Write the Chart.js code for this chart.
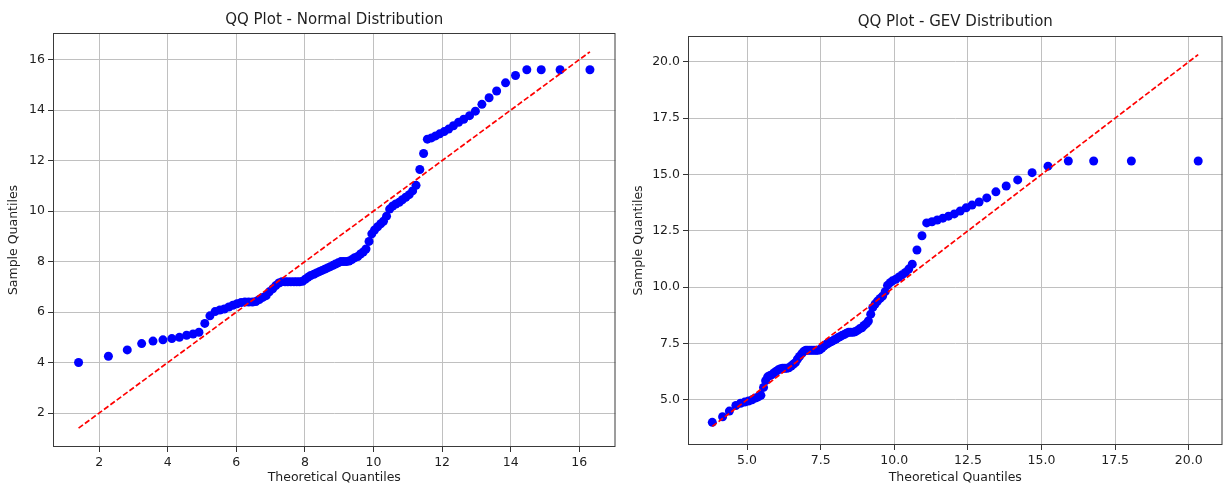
<!DOCTYPE html>
<html>
<head>
<meta charset="utf-8">
<title>QQ Plots</title>
<script src="https://cdn.jsdelivr.net/npm/chart.js@4.4.1/dist/chart.umd.min.js"></script>
<style>
  body { margin: 0; background: #fff; overflow: hidden; }
  #wrap { position: relative; width: 1223px; height: 487px; overflow: hidden; }
  canvas { position: absolute; top: 0; }
</style>
</head>
<body>
<div id="wrap">
  <canvas id="qq-normal" width="620" height="487" style="left:0"></canvas>
  <canvas id="qq-gev" width="607" height="487" style="left:620px"></canvas>
</div>
<script>
// Sorted sample (same data in both plots)
const sampleQuantiles = [
  4.00, 4.25, 4.50, 4.75, 4.85, 4.90, 4.95, 5.00, 5.08, 5.13,
  5.20, 5.55, 5.85, 6.02, 6.08, 6.12, 6.20, 6.27, 6.33, 6.38,
  6.40, 6.40, 6.40, 6.42, 6.50, 6.58, 6.65, 6.80, 6.92, 7.05,
  7.15, 7.20, 7.20, 7.20, 7.20, 7.20, 7.20, 7.20, 7.22, 7.30,
  7.38, 7.45, 7.50, 7.55, 7.60, 7.65, 7.70, 7.75, 7.80, 7.85,
  7.90, 7.95, 8.00, 8.00, 8.00, 8.02, 8.08, 8.15, 8.20, 8.30,
  8.38, 8.50, 8.80, 9.10, 9.25, 9.38, 9.50, 9.60, 9.80, 10.08,
  10.20, 10.28, 10.35, 10.45, 10.55, 10.65, 10.80, 11.02, 11.65, 12.28,
  12.85, 12.90, 12.98, 13.06, 13.15, 13.25, 13.38, 13.52, 13.64, 13.78,
  13.96, 14.23, 14.49, 14.76, 15.08, 15.37, 15.60, 15.60, 15.60, 15.60
];

// Theoretical quantiles, normal fit
const theoNormal = [
  1.40, 2.27, 2.82, 3.24, 3.57, 3.86, 4.12, 4.34, 4.55, 4.74,
  4.91, 5.08, 5.23, 5.38, 5.52, 5.65, 5.78, 5.90, 6.02, 6.14,
  6.25, 6.36, 6.47, 6.57, 6.67, 6.77, 6.87, 6.96, 7.06, 7.15,
  7.24, 7.33, 7.42, 7.50, 7.59, 7.68, 7.76, 7.84, 7.93, 8.01,
  8.09, 8.17, 8.26, 8.34, 8.42, 8.50, 8.58, 8.66, 8.74, 8.82,
  8.89, 8.97, 9.05, 9.13, 9.21, 9.29, 9.37, 9.45, 9.54, 9.62,
  9.70, 9.78, 9.87, 9.95, 10.03, 10.12, 10.21, 10.29, 10.38, 10.47,
  10.56, 10.65, 10.75, 10.84, 10.94, 11.04, 11.14, 11.24, 11.35, 11.46,
  11.57, 11.69, 11.81, 11.93, 12.06, 12.19, 12.33, 12.48, 12.63, 12.80,
  12.97, 13.16, 13.37, 13.59, 13.85, 14.14, 14.47, 14.89, 15.44, 16.31
];

// Theoretical quantiles, GEV fit
const theoGev = [
  3.82, 4.17, 4.40, 4.62, 4.78, 4.92, 5.05, 5.17, 5.28, 5.38,
  5.47, 5.56, 5.63, 5.70, 5.78, 5.85, 5.92, 5.99, 6.06, 6.14,
  6.21, 6.28, 6.35, 6.42, 6.50, 6.57, 6.64, 6.71, 6.78, 6.86,
  6.93, 7.00, 7.06, 7.13, 7.20, 7.27, 7.34, 7.40, 7.47, 7.54,
  7.61, 7.68, 7.74, 7.81, 7.88, 7.95, 8.02, 8.08, 8.15, 8.22,
  8.30, 8.37, 8.45, 8.52, 8.60, 8.67, 8.75, 8.82, 8.90, 8.97,
  9.05, 9.12, 9.20, 9.27, 9.35, 9.43, 9.52, 9.60, 9.69, 9.77,
  9.86, 9.94, 10.05, 10.16, 10.27, 10.38, 10.49, 10.61, 10.77, 10.94,
  11.10, 11.28, 11.46, 11.65, 11.84, 12.04, 12.24, 12.44, 12.64, 12.88,
  13.14, 13.45, 13.80, 14.19, 14.68, 15.22, 15.91, 16.77, 18.05, 20.32
];

// Tick values
const normalTicks = [2, 4, 6, 8, 10, 12, 14, 16];
const gevTicks = [5, 7.5, 10, 12.5, 15, 17.5, 20];

const FONT = '"DejaVu Sans", "Liberation Sans", sans-serif';
const TEXT = '#1e1e1e';
const GRID = '#c0c0c0';

// Draw title centred over the plot area, and the box round it
const framePlugin = {
  id: 'frame',
  afterDraw(chart, args, opts) {
    const { ctx, chartArea: a } = chart;
    ctx.save();
    ctx.strokeStyle = '#3a3a3a';
    ctx.lineWidth = 1;
    ctx.strokeRect(a.left + 0.5, a.top + 0.5, a.right - a.left - 1, a.bottom - a.top - 1);
    ctx.font = '15px ' + FONT;
    ctx.fillStyle = TEXT;
    ctx.textAlign = 'center';
    ctx.textBaseline = 'middle';
    ctx.fillText(opts.text, (a.left + a.right) / 2, a.top - opts.offset);
    ctx.restore();
  },
};

// matplotlib-style 5% margin
const paddedRange = (values) => {
  const lo = Math.min(...values);
  const hi = Math.max(...values);
  const pad = (hi - lo) * 0.05;
  return { min: lo - pad, max: hi + pad };
};

const makeQQ = (id, theo, title, ticks, decimals, geo) => {
  const points = theo.map((x, i) => ({ x, y: sampleQuantiles[i] }));
  const lo = Math.min(...theo);
  const hi = Math.max(...theo);
  const range = paddedRange([lo, hi, ...sampleQuantiles]);
  const fmt = (v) => v.toFixed(decimals);

  const axis = (label, titlePad, fitFn) => ({
    type: 'linear',
    min: range.min,
    max: range.max,
    afterBuildTicks: (scale) => {
      scale.ticks = ticks.map((value) => ({ value }));
    },
    afterFit: fitFn,
    border: { display: false },
    grid: {
      color: GRID,
      lineWidth: 1,
      tickLength: 5,
      tickColor: '#333',
      tickWidth: 1,
    },
    ticks: {
      color: TEXT,
      padding: 3,
      font: { family: FONT, size: 12.5 },
      callback: (v) => fmt(v),
    },
    title: {
      display: true,
      text: label,
      color: TEXT,
      padding: titlePad,
      font: { family: FONT, size: 12.5 },
    },
  });

  return new Chart(document.getElementById(id), {
    type: 'scatter',
    data: {
      datasets: [
        {
          type: 'line',
          data: [{ x: lo, y: lo }, { x: hi, y: hi }],
          borderColor: '#ff0000',
          borderWidth: 1.7,
          borderDash: [5.5, 2.4],
          pointRadius: 0,
          fill: false,
        },
        {
          data: points,
          backgroundColor: '#0000ff',
          borderWidth: 0,
          pointRadius: 4.5,
        },
      ],
    },
    options: {
      responsive: false,
      animation: false,
      layout: { padding: { top: geo.top, right: geo.right, bottom: 0, left: 0 } },
      plugins: {
        legend: { display: false },
        tooltip: { enabled: false },
        frame: { text: title, offset: geo.titleOffset },
      },
      scales: {
        x: axis('Theoretical Quantiles', { top: 2, bottom: 2 }, (s) => { s.height = geo.xHeight; }),
        y: axis('Sample Quantiles', { top: geo.yTitlePad, bottom: 0 }, (s) => { s.width = geo.yWidth; }),
      },
    },
    plugins: [framePlugin],
  });
};

makeQQ('qq-normal', theoNormal, 'QQ Plot - Normal Distribution', normalTicks, 0,
  { top: 33, right: 3, xHeight: 40, yWidth: 53, yTitlePad: 6, titleOffset: 12.5 });
makeQQ('qq-gev', theoGev, 'QQ Plot - GEV Distribution', gevTicks, 1,
  { top: 36, right: 0, xHeight: 42, yWidth: 68, yTitlePad: 11, titleOffset: 13.5 });
</script>
</body>
</html>
